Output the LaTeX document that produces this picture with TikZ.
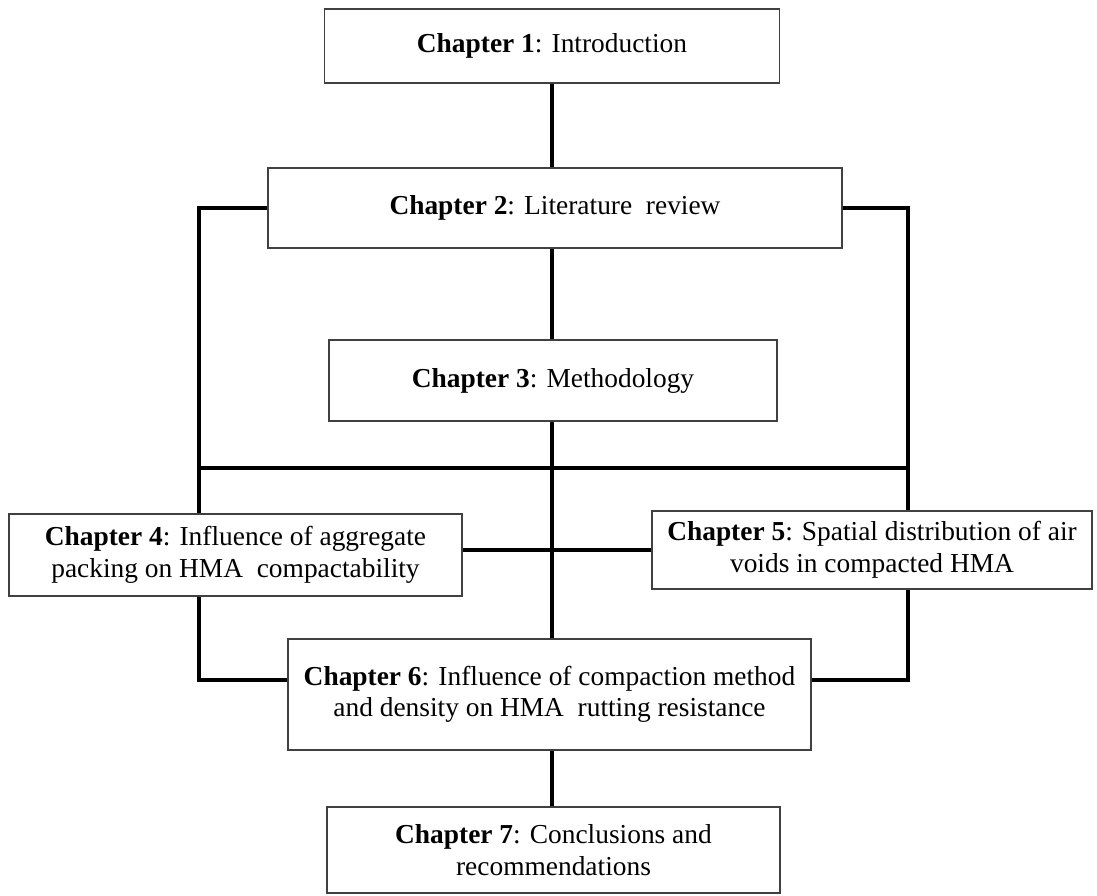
\documentclass[tikz,border=0pt]{standalone}
\usepackage{fontspec}
\setmainfont{Liberation Serif}
\usetikzlibrary{backgrounds}
\begin{document}
\begin{tikzpicture}[x=1pt,y=-1pt,
  box/.style={draw=black!75, line width=1.3pt, fill=white, align=center,
    inner sep=0pt, font=\fontsize{27.4}{31.5}\selectfont},
  conn/.style={draw=black, line width=4pt}]
\useasboundingbox (0,0) rectangle (1097,895);
\node[box, minimum width=455, minimum height=74] (b1) at (552,46) {\textbf{Chapter 1}: Introduction};
\node[box, minimum width=574, minimum height=80] (b2) at (555,208) {\textbf{Chapter 2}: Literature~ review};
\node[box, minimum width=448, minimum height=81] (b3) at (553,380.5) {\textbf{Chapter 3}: Methodology};
\node[box, minimum width=453, minimum height=82] (b4) at (235.5,555) {\textbf{Chapter 4}: Influence of aggregate\\packing on HMA~ compactability};
\node[box, minimum width=440, minimum height=78] (b5) at (872,550) {\textbf{Chapter 5}: Spatial distribution of air\\voids in compacted HMA};
\node[box, minimum width=523, minimum height=111] (b6) at (549.5,694.5) {\textbf{Chapter 6}: Influence of compaction method\\and density on HMA~ rutting resistance};
\node[box, minimum width=453, minimum height=86] (b7) at (553.5,850) {\textbf{Chapter 7}: Conclusions and\\recommendations};
\coordinate (BL) at (199,468);
\coordinate (BR) at (908,468);
\coordinate (LB) at (199,680);
\coordinate (RB) at (908,680);
\coordinate (CX) at (552,0);
\begin{scope}[on background layer]
  \draw[conn] (CX |- b1.south) -- (CX |- b2.north);
  \draw[conn] (CX |- b2.south) -- (CX |- b3.north);
  \draw[conn] (CX |- b3.south) -- (CX |- b6.north);
  \draw[conn] (CX |- b6.south) -- (CX |- b7.north);
  \draw[conn] (BL) -- (BR);
  \draw[conn] (b2.west) -| (LB) -- (LB -| b6.west);
  \draw[conn] (b2.east) -| (RB) -- (RB -| b6.east);
  \draw[conn] (b5.west -| b4.east) -- (b5.west);
\end{scope}
\end{tikzpicture}
\end{document}
